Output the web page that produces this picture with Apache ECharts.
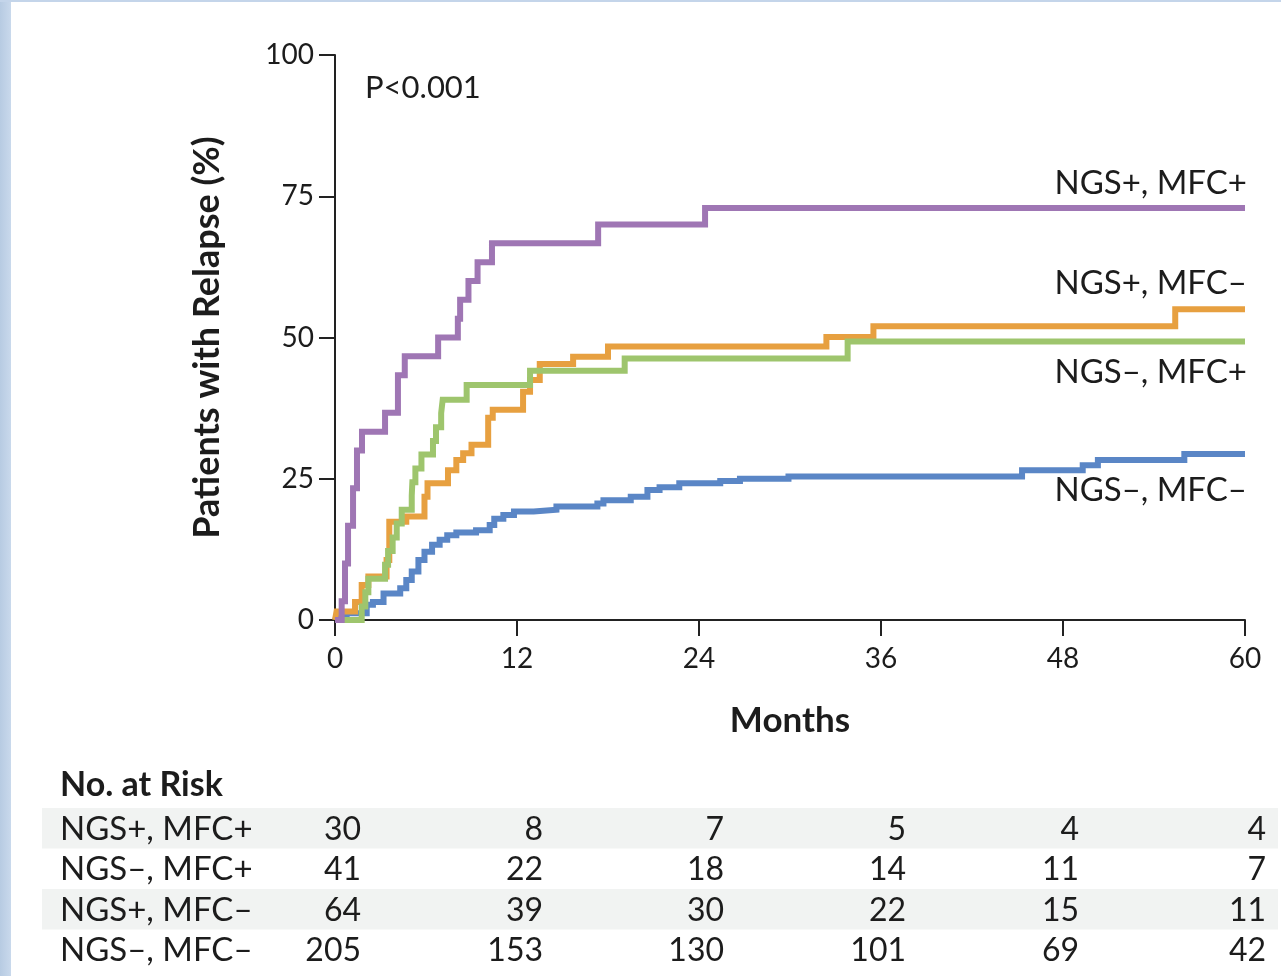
<!DOCTYPE html>
<html lang="en">
<head>
<meta charset="UTF-8">
<title>Relapse by NGS and MFC status</title>
<script src="https://cdn.jsdelivr.net/npm/echarts@6/dist/echarts.min.js"></script>
<style>
    html, body { margin: 0; padding: 0; background: #fff; }
    #chart { width: 1281px; height: 976px; }
</style>
</head>
<body>
<div id="chart"></div>
<script>
    // cumulative relapse (%) at each step, months
    var purpleT = [0, 0.44, 0.66, 0.86, 1.19, 1.45, 1.78, 3.3, 4.15, 4.6, 6.8, 8.1, 8.25, 8.8, 9.4, 10.35, 17.35, 24.4, 60];
    var purpleV = [0, 3.3, 10, 16.7, 23.3, 30, 33.3, 36.7, 43.3, 46.7, 50, 53.3, 56.7, 60, 63.3, 66.7, 70, 72.9, 72.9];

    var orangeT = [0, 0.1, 1.32, 1.76, 2.2, 3.4, 3.58, 4.7, 5.9, 6.1, 7.45, 8.0, 8.45, 9.0, 10.1, 10.4, 12.4, 12.86, 13.5, 15.7, 18.0, 32.4, 35.5, 55.4, 60];
    var orangeV = [0, 1.5, 3.2, 6.2, 7.7, 10.6, 17.4, 18.3, 21.8, 24.2, 26.5, 28.3, 29.5, 31, 35.8, 37.2, 40.4, 42.5, 45.3, 46.6, 48.4, 50.1, 52, 55, 55];

    var greenT = [0, 1.76, 2.0, 2.2, 3.3, 3.5, 3.8, 4.07, 4.4, 5.06, 5.1, 5.3, 5.7, 6.46, 6.66, 7.0, 7.1, 8.68, 12.86, 19.1, 33.8, 60];
    var greenV = [0, 2.4, 4.9, 7.3, 9.8, 12.2, 14.6, 17.1, 19.5, 22, 24.4, 26.8, 29.3, 31.7, 34.1, 36.6, 39, 41.6, 44.1, 46.3, 49.3, 49.3];

    var blueT = [0, 0.1, 0.77, 2.09, 2.5, 3.2, 4.3, 4.7, 5.06, 5.5, 5.9, 6.4, 6.9, 7.4, 8.0, 9.3, 10.2, 10.5, 11.1, 11.8, 13.1, 14.6, 17.3, 17.7, 19.5, 20.6, 21.4, 22.7, 25.4, 26.7, 29.9, 45.3, 49.3, 50.3, 56.0, 60];
    var blueV = [0, 0.6, 1.2, 2.7, 3.2, 4.7, 5.6, 7.1, 8.6, 10.6, 12.1, 13.3, 14.2, 15, 15.5, 15.9, 16.8, 17.9, 18.6, 19.2, 19.5, 20.1, 20.6, 21.2, 21.8, 23, 23.5, 24.2, 24.6, 25, 25.4, 26.5, 27.4, 28.3, 29.4, 29.4];

    var xTicks = [0, 12, 24, 36, 48, 60];

    // number at risk table
    var riskGroups = ['NGS+, MFC+', 'NGS–, MFC+', 'NGS+, MFC–', 'NGS–, MFC–'];
    var riskPurple = [30, 8, 7, 5, 4, 4];
    var riskGreen = [41, 22, 18, 14, 11, 7];
    var riskOrange = [64, 39, 30, 22, 15, 11];
    var riskBlue = [205, 153, 130, 101, 69, 42];

    var FONT = 'Lato, "Noto Sans", sans-serif';
    var INK = '#1c1c1c';
    var colors = { purple: '#9f76b4', orange: '#e7a040', green: '#9ec56d', blue: '#5a86c6' };

    function pairs(t, v) {
        return t.map(function (m, i) { return [m, v[i]]; });
    }

    function stepSeries(name, t, v, color, z) {
        return {
            name: name,
            type: 'line',
            step: 'end',
            data: pairs(t, v),
            symbol: 'none',
            z: z,
            lineStyle: { color: color, width: 6, cap: 'butt', join: 'miter' },
            emphasis: { disabled: true }
        };
    }

    var chart = echarts.init(document.getElementById('chart'));

    var option = {
        animation: false,
        backgroundColor: '#fff',
        grid: { left: 335, top: 55, width: 910, height: 565, containLabel: false },
        xAxis: {
            type: 'value', min: 0, max: 60, interval: 12,
            axisLine: { lineStyle: { color: '#222', width: 2 } },
            axisTick: { length: 16, lineStyle: { color: '#222', width: 2 } },
            axisLabel: { color: INK, fontFamily: FONT, fontSize: 28, margin: 25 },
            splitLine: { show: false },
            name: 'Months', nameLocation: 'middle', nameGap: 83,
            nameTextStyle: { color: INK, fontFamily: FONT, fontSize: 35, fontWeight: 'bold' }
        },
        yAxis: {
            type: 'value', min: 0, max: 100, interval: 25,
            axisLine: { show: true, lineStyle: { color: '#222', width: 2 } },
            axisTick: { show: true, length: 16, lineStyle: { color: '#222', width: 2 } },
            axisLabel: { color: INK, fontFamily: FONT, fontSize: 28, margin: 21 },
            splitLine: { show: false },
            name: 'Patients with Relapse (%)', nameLocation: 'middle', nameGap: 110,
            nameTextStyle: { color: INK, fontFamily: FONT, fontSize: 36, fontWeight: 'bold' }
        },
        series: [
            stepSeries('NGS–, MFC–', blueT, blueV, colors.blue, 2),
            stepSeries('NGS+, MFC–', orangeT, orangeV, colors.orange, 3),
            stepSeries('NGS–, MFC+', greenT, greenV, colors.green, 4),
            stepSeries('NGS+, MFC+', purpleT, purpleV, colors.purple, 5)
        ]
    };
    chart.setOption(option);

    function px(x, y) {
        return chart.convertToPixel({ gridIndex: 0 }, [x, y]);
    }

    var g = [];
    // pale frame of the original page
    g.push({
        type: 'rect', shape: { x: 0, y: 0, width: 11, height: 976 }, silent: true,
        style: { fill: new echarts.graphic.LinearGradient(0, 0, 1, 0, [{ offset: 0, color: '#b7cbe2' }, { offset: 1, color: '#c9d9ec' }]) }
    });
    g.push({ type: 'rect', shape: { x: 0, y: 0, width: 1281, height: 2 }, silent: true, style: { fill: '#c4d5ea' } });

    g.push({
        type: 'text', x: px(0, 100)[0] + 30, y: px(0, 100)[1] + 33, silent: true,
        style: { text: 'P<0.001', font: '31px ' + FONT, fill: INK, textVerticalAlign: 'middle' }
    });

    // curve labels on the right
    var endLabels = [
        { text: 'NGS+, MFC+', v: purpleV[purpleV.length - 1], dy: -25 },
        { text: 'NGS+, MFC–', v: orangeV[orangeV.length - 1], dy: -26 },
        { text: 'NGS–, MFC+', v: greenV[greenV.length - 1], dy: 31 },
        { text: 'NGS–, MFC–', v: blueV[blueV.length - 1], dy: 36 }
    ];
    endLabels.forEach(function (l) {
        var p = px(60, l.v);
        g.push({
            type: 'text', x: p[0] + 2, y: p[1] + l.dy, silent: true,
            style: { text: l.text, font: '33px ' + FONT, fill: INK, textAlign: 'right', textVerticalAlign: 'middle' }
        });
    });

    // no. at risk table
    var rows = [riskPurple, riskGreen, riskOrange, riskBlue];
    var colShift = [26, 26, 25, 25, 16, 21];
    var rowTop = 808, rowH = 40.5;
    g.push({
        type: 'text', x: 60, y: 785, silent: true,
        style: { text: 'No. at Risk', font: 'bold 34px ' + FONT, fill: INK, textVerticalAlign: 'middle' }
    });
    rows.forEach(function (row, r) {
        var top = rowTop + r * rowH;
        if (r % 2 === 0) {
            g.push({ type: 'rect', silent: true, shape: { x: 42, y: top, width: 1236, height: rowH }, style: { fill: '#f1f3f2' } });
        }
        g.push({
            type: 'text', x: 60, y: top + rowH / 2 + 1, silent: true,
            style: { text: riskGroups[r], font: '33px ' + FONT, fill: INK, textVerticalAlign: 'middle' }
        });
        row.forEach(function (n, c) {
            var x = px(xTicks[c], 0)[0] + colShift[c];
            g.push({
                type: 'text', x: x, y: top + rowH / 2 + 1, silent: true,
                style: { text: String(n), font: '32px ' + FONT, fill: INK, textAlign: 'right', textVerticalAlign: 'middle' }
            });
        });
    });

    chart.setOption({ graphic: g });
</script>
</body>
</html>
